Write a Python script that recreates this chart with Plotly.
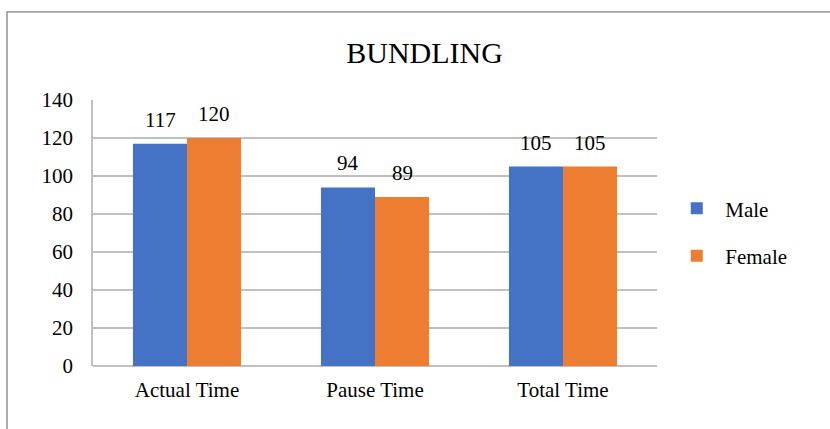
import plotly.graph_objects as go

# Data
categories = ["Actual Time", "Pause Time", "Total Time"]
male = [117, 94, 105]
female = [120, 89, 105]
series_names = ["Male", "Female"]
colors = ["#4472C4", "#ED7D31"]
y_ticks = [0, 20, 40, 60, 80, 100, 120, 140]

FONT = "Liberation Serif"

fig = go.Figure()
for i, (name, vals) in enumerate(zip(series_names, [male, female])):
    fig.add_trace(go.Bar(
        x=categories, y=vals, name=name, marker_color=colors[i],
        marker_line_width=0, legendgroup=name, offsetgroup=str(i),
    ))

# Value labels above each bar
for i, vals in enumerate([male, female]):
    for j, v in enumerate(vals):
        fig.add_annotation(
            x=categories[j], y=v, text=str(v), showarrow=False,
            xref="x", yref="y", xanchor="center", yanchor="bottom",
            xshift=(-27 if i == 0 else 27), yshift=10,
            font=dict(family=FONT, size=21, color="#000000"),
        )

# Outer chart frame
fig.add_shape(type="rect", xref="paper", yref="paper",
              x0=-0.1525, x1=1.6, y0=-0.5, y1=1.331,
              line=dict(color="#808080", width=1.3), layer="below")

fig.update_layout(
    width=830, height=429,
    margin=dict(l=93, r=173, t=100, b=63),
    paper_bgcolor="white", plot_bgcolor="white",
    title=dict(text="BUNDLING", x=0.5115, xanchor="center", y=0.878, yanchor="middle",
               font=dict(family=FONT, size=30, color="#000000")),
    barmode="group", bargap=0.425, bargroupgap=0,
    font=dict(family=FONT, size=21, color="#000000"),
    showlegend=True,
    legend=dict(x=1.02, xanchor="left", y=0.503, yanchor="middle",
                font=dict(family=FONT, size=21, color="#000000"),
                tracegroupgap=17, itemwidth=47, bgcolor="rgba(0,0,0,0)"),
    xaxis=dict(showgrid=False, showline=False, ticks="",
               tickfont=dict(family=FONT, size=21), ticklabelstandoff=9),
    yaxis=dict(range=[0, 140], tickvals=y_ticks, showgrid=True,
               gridcolor="#C0C0C0", gridwidth=1.5, zeroline=True,
               zerolinecolor="#C0C0C0", zerolinewidth=1.5,
               showline=True, linecolor="#C0C0C0", linewidth=1.5,
               ticks="", tickfont=dict(family=FONT, size=21),
               ticklabelstandoff=14),
)

fig.write_html("out.html")
